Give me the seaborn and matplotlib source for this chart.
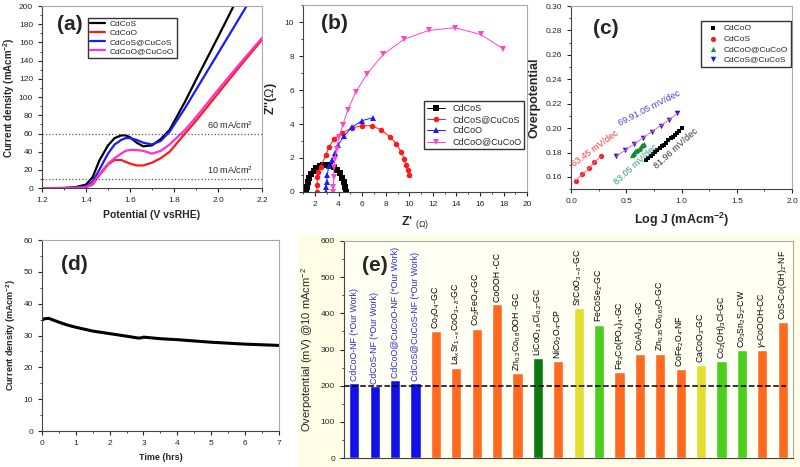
import numpy as np
import pandas as pd
import seaborn as sns
import matplotlib.pyplot as plt
from matplotlib.patches import Rectangle
from matplotlib.ticker import MultipleLocator, AutoMinorLocator

# (a) LSV curves
pot = [1.20, 1.30, 1.35, 1.40, 1.43, 1.46, 1.50, 1.53, 1.56, 1.58, 1.60, 1.63, 1.66,
       1.70, 1.74, 1.78, 1.85, 1.90, 2.00, 2.10, 2.20]
j_cdcos = [0, 0.3, 1, 4, 12, 30, 47, 55, 58, 58, 56, 50, 46, 47, 54, 64, 95, 119, 166, 214, 260]
j_cdcoo = [0, 0, 0.3, 1, 4, 14, 26, 31, 31, 29, 27, 25, 25, 28, 33, 40, 60, 74, 104, 134, 163]
j_cdcos_cucos = [0, 0, 0.5, 2, 7, 20, 38, 48, 53, 55, 55, 53, 50, 48, 52, 62, 88, 108, 148, 188, 228]
j_cdcoo_cucoo = [0, 0, 0.3, 1, 5, 15, 27, 33, 38, 41, 42, 42, 41, 38, 41, 48, 64, 78, 108, 137, 165]

# (b) Nyquist plots
nyq_cdcos_x = [1.25, 1.3, 1.4, 1.5, 1.7, 1.9, 2.1, 2.4, 2.7, 3.0, 3.3, 3.6, 3.9, 4.1, 4.3, 4.45, 4.55, 4.6]
nyq_cdcos_y = [0.0, 0.3, 0.6, 0.8, 1.05, 1.25, 1.4, 1.52, 1.6, 1.6, 1.55, 1.45, 1.3, 1.1, 0.85, 0.6, 0.3, 0.0]
nyq_cucos_x = [2.15, 2.19, 2.19, 2.27, 2.47, 2.9, 3.18, 3.6, 4.25, 5.1, 6.0, 6.85, 7.6, 8.35, 8.9, 9.3,
               9.57, 9.74, 9.88, 9.96]
nyq_cucos_y = [0.0, 0.4, 0.88, 1.17, 1.46, 2.15, 2.64, 3.1, 3.45, 3.77, 3.9, 3.9, 3.65, 3.26, 2.83, 2.38,
               1.95, 1.56, 1.27, 1.0]
nyq_cdcoo_x = [2.95, 2.97, 3.0, 3.05, 3.15, 3.46, 3.69, 3.97, 4.48, 5.1, 6.0, 6.9]
nyq_cdcoo_y = [0.0, 0.3, 0.6, 1.0, 1.5, 1.9, 2.28, 2.79, 3.3, 3.8, 4.2, 4.37]
nyq_cucoo_x = [3.5, 3.54, 3.6, 3.6, 3.69, 3.83, 4.02, 4.36, 4.79, 5.44, 6.43, 7.79, 9.54, 11.63, 13.84,
               16.04, 17.93]
nyq_cucoo_y = [0.0, 0.3, 0.88, 1.46, 1.95, 2.54, 3.22, 3.96, 4.84, 5.86, 6.97, 8.1, 8.98, 9.51, 9.67,
               9.28, 8.44]

# (c) Tafel plots
taf_cdcos_x = [0.04, 0.10, 0.16, 0.21, 0.27]
taf_cdcos_y = [0.157, 0.162, 0.167, 0.172, 0.177]
taf_cucos_x = [0.41, 0.49, 0.57, 0.65, 0.73, 0.81, 0.89, 0.96]
taf_cucos_y = [0.177, 0.182, 0.187, 0.192, 0.197, 0.202, 0.207, 0.212]
taf_cucoo_x = [0.55, 0.56, 0.57, 0.58, 0.59, 0.60, 0.61, 0.62, 0.63, 0.64, 0.65, 0.66]
taf_cucoo_y = [0.178, 0.179, 0.180, 0.181, 0.1815, 0.182, 0.183, 0.184, 0.185, 0.186, 0.1865, 0.187]
taf_cdcoo_x = [0.68, 0.70, 0.72, 0.74, 0.76, 0.78, 0.80, 0.82, 0.84, 0.86, 0.88, 0.90, 0.92, 0.94,
               0.96, 0.98, 1.00]
taf_cdcoo_y = [0.174, 0.1755, 0.177, 0.179, 0.1805, 0.182, 0.1835, 0.185, 0.1865, 0.188, 0.190, 0.1915,
               0.193, 0.1945, 0.196, 0.198, 0.200]

# (d) stability
time_h = [0, 0.05, 0.1, 0.2, 0.3, 0.5, 0.75, 1.0, 1.5, 2.0, 2.5, 2.85, 2.95, 3.0, 3.5, 4, 4.5, 5,
          5.5, 6, 6.5, 7]
stab_j = [34.8, 35.2, 35.3, 35.4, 35.0, 34.2, 33.3, 32.6, 31.4, 30.6, 29.8, 29.2, 29.3, 29.5, 29.0,
          28.7, 28.3, 27.9, 27.6, 27.3, 27.1, 26.9]

# (e) comparison bars
bar_keys = ['CdCoO-NF', 'CdCoS-NF', 'CdCoO@CuCoO-NF', 'CdCoS@CuCoS-NF', 'Co3O4', 'LaSrCoO', 'Co2FeO4',
            'CoOOH', 'ZnCoOOH', 'LiCoOCl', 'NiCo2O4', 'SrCoO', 'FeCoSe2', 'Fe3Co(PO4)4', 'CoAl2O4',
            'ZnCoO', 'CoFe2O4', 'CaCoO3', 'Co2(OH)3Cl', 'Co3Sn2S2', 'g-CoOOH', 'CoS-Co(OH)2']
bar_labels = ['CdCoO-NF (*Our Work)', 'CdCoS-NF (*Our Work)', 'CdCoO@CuCoO-NF (*Our Work)',
              'CdCoS@CuCoS-NF (*Our Work)', r'Co$_3$O$_4$-GC', r'La$_x$Sr$_{1-x}$CoO$_{3-\delta}$-GC',
              r'Co$_2$FeO$_4$-GC', 'CoOOH -CC', r'Zn$_{0.2}$Co$_{0.8}$OOH -GC',
              r'LiCoO$_{1.8}$Cl$_{0.2}$-GC', r'NiCo$_2$O$_4$-CP', r'SrCoO$_{3-\delta}$-GC',
              r'FeCoSe$_2$-GC', r'Fe$_3$Co(PO$_4$)$_4$-GC', r'CoAl$_2$O$_4$-GC',
              r'Zn$_{0.35}$Co$_{0.65}$O-GC', r'CoFe$_2$O$_4$-NF', r'CaCoO$_3$-GC',
              r'Co$_2$(OH)$_3$Cl-GC', r'Co$_3$Sn$_2$S$_2$-CW', r'$\gamma$-CoOOH-CC',
              r'CoS-Co(OH)$_2$-NF']
bar_vals = [208, 200, 215, 208, 350, 250, 358, 426, 235, 277, 268, 415, 369, 237, 289, 289, 245,
            258, 268, 299, 298, 377]
BL, OR, DG, YE, GR = '#1212e6', '#ff6a1f', '#0c7a0c', '#e3df2e', '#4ccf1a'
bar_colors = [BL, BL, BL, BL, OR, OR, OR, OR, OR, DG, OR, YE, GR, OR, OR, OR, OR, YE, GR, GR, OR, OR]

sns.set_style('ticks')
plt.rcParams['font.family'] = ['Liberation Sans', 'DejaVu Sans']
plt.rcParams['mathtext.fontset'] = 'custom'
plt.rcParams['mathtext.rm'] = 'Liberation Sans'
plt.rcParams['mathtext.it'] = 'Liberation Sans:italic'
plt.rcParams['mathtext.bf'] = 'Liberation Sans:bold'
plt.rcParams['xtick.labelsize'] = 6
plt.rcParams['ytick.labelsize'] = 6
plt.rcParams['xtick.major.size'] = 3
plt.rcParams['ytick.major.size'] = 3

fig = plt.figure(figsize=(8, 4.67), dpi=100)
fig.patches.append(Rectangle((0.3725, 0), 0.6275, 0.497, transform=fig.transFigure,
                             facecolor='#fffde6', edgecolor='none', zorder=-1))

ax_a = fig.add_axes([0.0525, 0.597, 0.275, 0.39])
ax_b = fig.add_axes([0.379, 0.589, 0.28, 0.40])
ax_c = fig.add_axes([0.714, 0.595, 0.276, 0.392])
ax_d = fig.add_axes([0.0525, 0.077, 0.296, 0.409])
ax_e = fig.add_axes([0.43, 0.019, 0.561, 0.465])

# ---- (a)
for y, c, lab in [(j_cdcos, 'black', 'CdCoS'), (j_cdcoo, '#ff1a1a', 'CdCoO'),
                  (j_cdcos_cucos, '#1a1aff', 'CdCoS@CuCoS'), (j_cdcoo_cucoo, '#ff33cc', 'CdCoO@CuCoO')]:
    sns.lineplot(x=pot, y=y, ax=ax_a, color=c, lw=1.6, label=lab)
ax_a.axhline(60, color='#555577', ls=':', lw=0.9)
ax_a.axhline(10, color='#555577', ls=':', lw=0.9)
ax_a.text(2.16, 63, r'60 mA/cm$^2$', fontsize=6.5, ha='right', va='bottom')
ax_a.text(2.16, 13, r'10 mA/cm$^2$', fontsize=6.5, ha='right', va='bottom')
ax_a.set_xlim(1.2, 2.2)
ax_a.set_ylim(0, 200)
ax_a.xaxis.set_major_locator(MultipleLocator(0.2))
ax_a.yaxis.set_major_locator(MultipleLocator(20))
ax_a.set_xlabel('Potential (V vsRHE)', fontsize=7.5, fontweight='bold')
ax_a.set_ylabel(r'Current density (mAcm$^{\mathbf{-2}}$)', fontsize=7, fontweight='bold', labelpad=1)
ax_a.legend(loc='upper left', bbox_to_anchor=(0.19, 0.96), fontsize=6, frameon=True, fancybox=False,
            edgecolor='black', handlelength=1.8, borderpad=0.3, labelspacing=0.15, handletextpad=0.5)
ax_a.text(0.07, 0.9, '(a)', transform=ax_a.transAxes, fontsize=15, fontweight='bold', va='center')

# ---- (b)
for xs, ys, c, m, lab in [(nyq_cdcos_x, nyq_cdcos_y, 'black', 's', 'CdCoS'),
                          (nyq_cucos_x, nyq_cucos_y, '#ff1a1a', 'o', 'CdCoS@CuCoS'),
                          (nyq_cdcoo_x, nyq_cdcoo_y, '#1a1aff', '^', 'CdCoO'),
                          (nyq_cucoo_x, nyq_cucoo_y, '#ff44cc', 'v', 'CdCoO@CuCoO')]:
    sns.lineplot(x=xs, y=ys, ax=ax_b, sort=False, estimator=None, color=c, lw=0.7, marker=m,
                 markersize=4, markeredgewidth=0, label=lab)
ax_b.set_xlim(1, 20)
ax_b.set_ylim(0, 11)
ax_b.set_xticks(range(2, 21, 2))
ax_b.set_yticks(range(0, 11, 2))
ax_b.set_xlabel(r"Z' $_{(\Omega)}$", fontsize=9, fontweight='bold')
ax_b.set_ylabel(r"Z''($\Omega$)", fontsize=9, fontweight='bold')
ax_b.legend(loc='upper left', bbox_to_anchor=(0.52, 0.51), fontsize=6.5, frameon=True, fancybox=False,
            edgecolor='black', borderpad=0.3, labelspacing=0.25)
ax_b.text(0.08, 0.9, '(b)', transform=ax_b.transAxes, fontsize=15, fontweight='bold', va='center')

# ---- (c)
sns.lineplot(x=taf_cdcos_x, y=taf_cdcos_y, ax=ax_c, color='#ff6699', lw=0.7)
sns.lineplot(x=taf_cucos_x, y=taf_cucos_y, ax=ax_c, color='#ff6699', lw=0.7)
sns.scatterplot(x=taf_cdcoo_x, y=taf_cdcoo_y, ax=ax_c, color='black', marker='s', s=12,
                linewidth=0, label='CdCoO')
sns.scatterplot(x=taf_cdcos_x, y=taf_cdcos_y, ax=ax_c, color='#ff1a1a', marker='o', s=14,
                linewidth=0, label='CdCoS')
sns.scatterplot(x=taf_cucoo_x, y=taf_cucoo_y, ax=ax_c, color='#1a8a3a', marker='^', s=14,
                linewidth=0, label='CdCoO@CuCoO')
sns.scatterplot(x=taf_cucos_x, y=taf_cucos_y, ax=ax_c, color='#1a1aee', marker='v', s=16,
                linewidth=0, label='CdCoS@CuCoS')
ax_c.text(0.22, 0.1835, '63.45 mV/dec', color='#ff3333', fontsize=6.5, rotation=36, ha='center', va='center')
ax_c.text(0.71, 0.2165, '69.91.05 mV/dec', color='#4444cc', fontsize=6.5, rotation=27, ha='center', va='center')
ax_c.text(0.585, 0.1705, '83.05 mV/dec', color='#2a9a8a', fontsize=6.5, rotation=42, ha='center', va='center')
ax_c.text(0.95, 0.183, '81.96 mV/dec', color='#333333', fontsize=6.5, rotation=42, ha='center', va='center')
ax_c.set_xlim(0, 2)
ax_c.set_ylim(0.15, 0.30)
ax_c.xaxis.set_major_locator(MultipleLocator(0.5))
ax_c.yaxis.set_major_locator(MultipleLocator(0.02))
ax_c.set_xlabel(r'Log J (mAcm$^{\mathbf{-2}}$)', fontsize=9, fontweight='bold')
ax_c.set_ylabel('Overpotential', fontsize=9, fontweight='bold')
ax_c.legend(loc='upper left', bbox_to_anchor=(0.57, 0.94), fontsize=6, frameon=True, fancybox=False,
            edgecolor='black', borderpad=0.4, labelspacing=0.3, handletextpad=0.3)
ax_c.text(0.1, 0.88, '(c)', transform=ax_c.transAxes, fontsize=15, fontweight='bold', va='center')

# ---- (d)
sns.lineplot(x=time_h, y=stab_j, ax=ax_d, color='black', lw=2.2)
ax_d.set_xlim(0, 7)
ax_d.set_ylim(0, 60)
ax_d.xaxis.set_major_locator(MultipleLocator(1))
ax_d.yaxis.set_major_locator(MultipleLocator(10))
ax_d.set_xlabel('Time (hrs)', fontsize=6.5, fontweight='bold')
ax_d.set_ylabel(r'Current density (mAcm$^{\mathbf{-2}}$)', fontsize=6.5, fontweight='bold')
ax_d.text(0.08, 0.87, '(d)', transform=ax_d.transAxes, fontsize=15, fontweight='bold', va='center')

# ---- (e)
ax_e.set_facecolor('#fffff4')
sns.barplot(x=bar_keys, y=bar_vals, hue=bar_keys, palette=bar_colors, legend=False, width=0.5,
            saturation=1, ax=ax_e)
ax_e.axhline(200, xmax=0.985, color='black', ls='--', lw=1.1, zorder=3)
for i, (lab, v) in enumerate(zip(bar_labels, bar_vals)):
    ax_e.text(i, v + 6, lab, rotation=90, ha='center', va='bottom', fontsize=6.3,
              color='#2a2ad0' if i < 4 else 'black')
ax_e.set_xlim(-0.5, len(bar_keys) - 0.5)
ax_e.set_ylim(0, 600)
ax_e.yaxis.set_major_locator(MultipleLocator(100))
ax_e.set_xticks([])
ax_e.set_xlabel('')
ax_e.set_ylabel(r'Overpotential (mV) @10 mAcm$^{-2}$', fontsize=8)
ax_e.text(0.04, 0.885, '(e)', transform=ax_e.transAxes, fontsize=15, fontweight='bold', va='center')

for ax in [ax_a, ax_b, ax_c, ax_d, ax_e]:
    for s in ax.spines.values():
        s.set_color('#444444')
        s.set_linewidth(0.8)
    ax.spines['top'].set_color('#aaaaaa')
    ax.spines['right'].set_color('#aaaaaa')
    ax.yaxis.set_minor_locator(AutoMinorLocator(2))
    if ax is not ax_e:
        ax.xaxis.set_minor_locator(AutoMinorLocator(2))
    ax.tick_params(which='minor', length=1.5)

fig.savefig('out.png', dpi=100)
